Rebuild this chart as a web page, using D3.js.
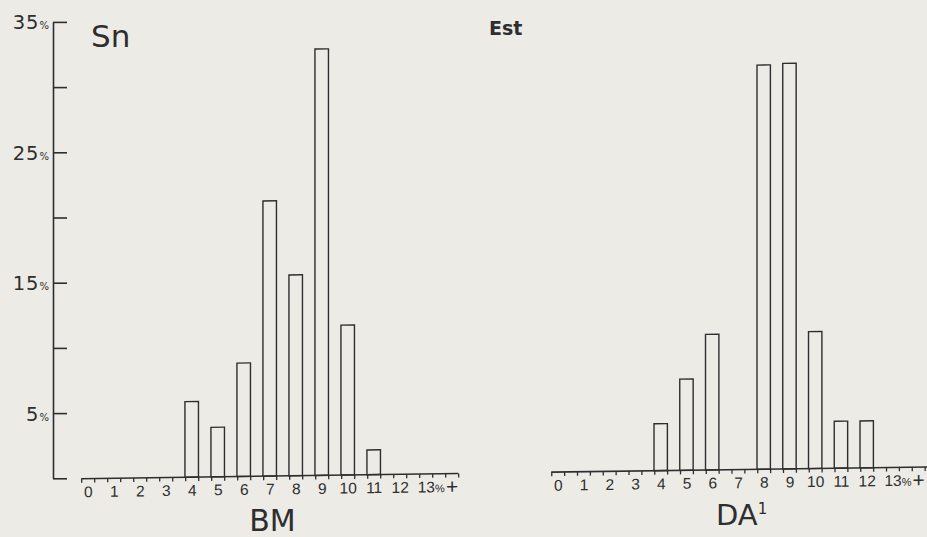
<!DOCTYPE html>
<html><head><meta charset="utf-8">
<script src="https://cdn.jsdelivr.net/npm/d3@7"></script>
<style>
html,body{margin:0;padding:0;background:#ecebe6;}
svg{display:block;font-family:"DejaVu Sans",Verdana,sans-serif;}
</style></head><body>
<svg id="chart" width="927" height="537"></svg>
<script>
// ---- data ----
const categories = [0,1,2,3,4,5,6,7,8,9,10,11,12,13,14];
const categoryLabels = ["0","1","2","3","4","5","6","7","8","9","10","11","12","13","+"];
const bmBins = [4,5,6,7,8,9,10,11];
const bmValues = [5.8,3.8,8.7,21.1,15.4,32.7,11.5,1.9];
const daBins = [4,5,6,8,9,10,11,12];
const daValues = [3.6,7.0,10.4,31.0,31.1,10.5,3.6,3.6];
const yTicks = [0,5,10,15,20,25,30,35];
const yLabelTicks = [5,15,25,35];

const ink = "#2e2e2e";
const font = '"DejaVu Sans",Verdana,sans-serif';
const fontTick = '"Liberation Sans",Arial,Helvetica,sans-serif';
const svg = d3.select("#chart");
svg.append("rect").attr("width",927).attr("height",537).attr("fill","#ecebe6");

// ---- y axis ----
const yAxisScale = d3.scaleLinear().domain([0,35]).range([478.3, 21.9]);
const yAx = svg.append("g").attr("transform","translate(53,0)")
  .call(d3.axisLeft(yAxisScale).tickValues(yTicks).tickSizeInner(-14).tickSizeOuter(0).tickPadding(4).tickFormat(""));
yAx.attr("font-family",font);
yAx.select(".domain").attr("stroke",ink).attr("stroke-width",1.6);
yAx.selectAll(".tick line").attr("stroke",ink).attr("stroke-width",1.6);
yAx.selectAll(".tick").each(function(d){
  const t = d3.select(this).select("text");
  if (yLabelTicks.includes(d)) {
    t.attr("fill",ink).attr("font-size",19.5).attr("dy","0.36em").attr("text-anchor","end");
    t.append("tspan").attr("letter-spacing",1).text(d);
    t.append("tspan").attr("font-size",10).text("%");
  }
});

// ---- panels ----
const panels = [
  {bins: bmBins, values: bmValues, x0: 87.7, unit: 26, end: 14.25},
  {bins: daBins, values: daValues, x0: 557.7, unit: 25.75, end: 14.55}
];
const yPanel = d3.scaleLinear().domain([0,35]).range([479.8, 479.8 - 35*13.04]);

panels.forEach(p => {
  const x = d3.scaleLinear().domain([0,14]).range([p.x0, p.x0 + 14*p.unit]);
  const g = svg.append("g").attr("transform","skewY(-0.7935)");
  const base = yPanel(0);
  const tickVals = d3.range(-0.25, 14.26, 0.5);
  const ax1 = g.append("g").attr("transform",`translate(0,${base})`)
    .call(d3.axisBottom(x).tickValues(tickVals).tickSizeInner(4).tickSizeOuter(0).tickFormat(""));
  ax1.select(".domain").attr("d",`M${x(-0.25)},0H${x(p.end)}`).attr("stroke",ink).attr("stroke-width",1.6);
  ax1.selectAll(".tick line").attr("stroke",ink).attr("stroke-width",1.3);
  const ax2 = g.append("g").attr("transform",`translate(0,${base})`)
    .call(d3.axisBottom(x).tickValues(categories).tickSize(0).tickPadding(7.5).tickFormat(""));
  ax2.attr("font-family",fontTick);
  ax2.select(".domain").remove();
  ax2.selectAll(".tick text").each(function(d){
    const t = d3.select(this).attr("fill",ink).attr("font-size",15.5);
    if (d === 13) {
      t.attr("text-anchor","start").attr("x",-8.5);
      t.append("tspan").text("13");
      t.append("tspan").attr("font-size",11).text("%");
    } else if (d === 14) {
      t.attr("font-size",21).attr("dy","0.6em").text(categoryLabels[d]);
    } else {
      t.text(categoryLabels[d]);
    }
  });
  const bw = p.unit*0.52;
  g.selectAll("rect.bar").data(p.bins.map((b,i)=>({b, v:p.values[i]}))).join("rect")
    .attr("class","bar")
    .attr("x", d => x(d.b) - bw/2)
    .attr("width", bw)
    .attr("y", d => yPanel(d.v))
    .attr("height", d => base - yPanel(d.v))
    .attr("fill","none").attr("stroke",ink).attr("stroke-width",1.4);
});

// ---- texts ----
svg.append("text").attr("x",91).attr("y",47).attr("font-size",31).attr("fill",ink).text("Sn");
svg.append("text").attr("x",489).attr("y",35).attr("font-size",19).attr("font-weight","bold").attr("fill",ink).text("Est");
svg.append("text").attr("x",272.5).attr("y",531).attr("font-size",30).attr("text-anchor","middle").attr("fill",ink).text("BM");
const da = svg.append("text").attr("x",716).attr("y",524.5).attr("font-size",29).attr("fill",ink);
da.append("tspan").text("DA");
da.append("tspan").attr("font-size",15).attr("dy",-11).text("1");
</script>
</body></html>
